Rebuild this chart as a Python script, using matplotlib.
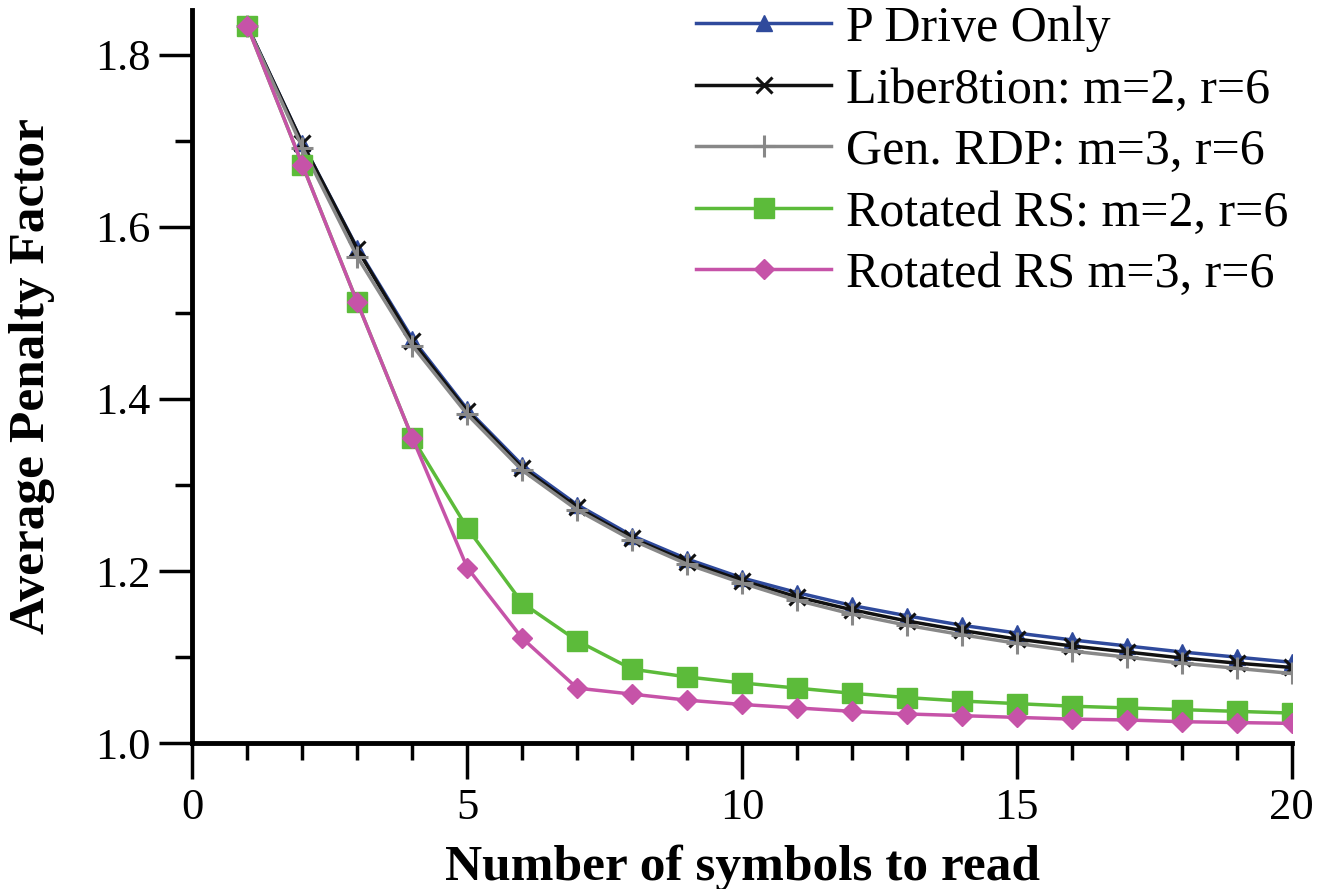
import numpy as np
import matplotlib
matplotlib.use("Agg")
import matplotlib.pyplot as plt
from matplotlib.ticker import MultipleLocator

plt.rcParams['font.family'] = ['Liberation Serif', 'DejaVu Serif']

x = np.arange(1, 21)

p_drive = [1.833, 1.697, 1.575, 1.470, 1.388, 1.323, 1.277, 1.241, 1.214, 1.192,
           1.175, 1.160, 1.148, 1.137, 1.128, 1.120, 1.113, 1.106, 1.100, 1.094]
liber8tion = [1.833, 1.697, 1.574, 1.467, 1.386, 1.320, 1.274, 1.238, 1.211, 1.189,
              1.170, 1.155, 1.142, 1.131, 1.121, 1.113, 1.106, 1.099, 1.093, 1.088]
gen_rdp = [1.833, 1.692, 1.565, 1.462, 1.382, 1.317, 1.271, 1.236, 1.208, 1.186,
           1.166, 1.150, 1.137, 1.126, 1.116, 1.107, 1.100, 1.093, 1.087, 1.081]
rot_rs_m2 = [1.833, 1.672, 1.512, 1.355, 1.250, 1.163, 1.119, 1.086, 1.077, 1.070,
             1.064, 1.058, 1.053, 1.049, 1.046, 1.043, 1.041, 1.039, 1.037, 1.035]
rot_rs_m3 = [1.833, 1.672, 1.512, 1.355, 1.204, 1.122, 1.064, 1.057, 1.050, 1.045,
             1.041, 1.037, 1.034, 1.032, 1.030, 1.028, 1.027, 1.025, 1.024, 1.023]

labels = ["P Drive Only", "Liber8tion: m=2, r=6", "Gen. RDP: m=3, r=6",
          "Rotated RS: m=2, r=6", "Rotated RS m=3, r=6"]

fig = plt.figure(figsize=(13.18, 8.89), dpi=100)
ax = fig.add_axes([0.146, 0.164, 0.834, 0.825])

ax.plot(x, p_drive, color='#2f4a9c', lw=2.5, marker='^', ms=12, label=labels[0])
ax.plot(x, liber8tion, color='#111111', lw=2.5, marker='x', ms=12, mew=2.2, label=labels[1])
ax.plot(x, gen_rdp, color='#888888', lw=2.5, marker='+', ms=16, mew=2.2, label=labels[2])
ax.plot(x, rot_rs_m2, color='#5cbb3a', lw=2.5, marker='s', ms=15, label=labels[3])
ax.plot(x, rot_rs_m3, color='#c653a8', lw=2.5, marker='D', ms=10, label=labels[4])

ax.set_xlim(0, 20)
ax.set_ylim(1.0, 1.852)
ax.xaxis.set_major_locator(MultipleLocator(5))
ax.xaxis.set_minor_locator(MultipleLocator(1))
ax.yaxis.set_major_locator(MultipleLocator(0.2))
ax.yaxis.set_minor_locator(MultipleLocator(0.1))
ax.yaxis.set_major_formatter(plt.FormatStrFormatter('%.1f'))

for s in ['top', 'right']:
    ax.spines[s].set_visible(False)
for s in ['left', 'bottom']:
    ax.spines[s].set_linewidth(3.5)

ax.tick_params(axis='x', which='major', direction='out', length=26, width=2.5,
               labelsize=32, pad=6)
ax.tick_params(axis='x', which='minor', direction='out', length=12, width=2.5)
ax.tick_params(axis='y', which='major', direction='out', length=24, width=2.5,
               labelsize=32, pad=6)
ax.tick_params(axis='y', which='minor', direction='out', length=12, width=2.5)

ax.set_xlabel("Number of symbols to read", fontsize=37, fontweight='bold')
ax.set_ylabel("Average Penalty Factor", fontsize=37, fontweight='bold')
ax.xaxis.set_label_coords(0.5, -0.138)
ax.yaxis.set_label_coords(-0.125, 0.5)

ax.legend(loc='upper right', bbox_to_anchor=(1.02, 1.04), frameon=False, fontsize=36,
          handlelength=2.7, handletextpad=0.3, labelspacing=0.3, borderaxespad=0.1)

fig.savefig("out.png", dpi=100)
